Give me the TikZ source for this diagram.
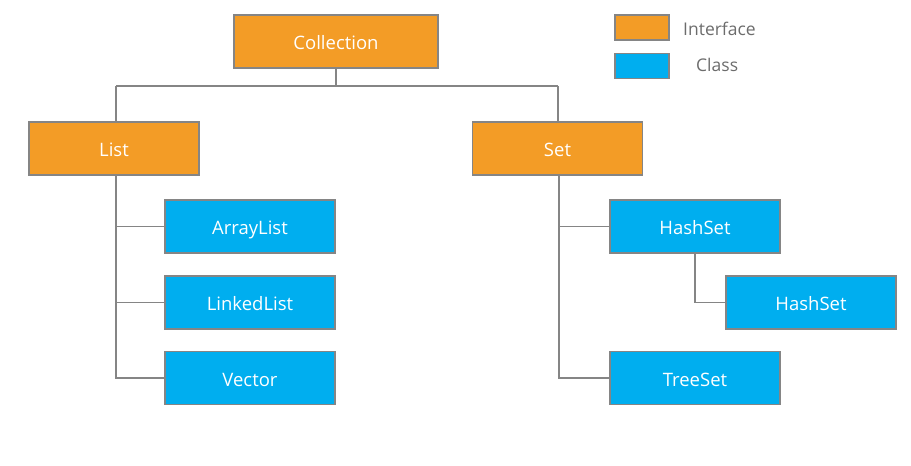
\documentclass[tikz,border=0pt]{standalone}
\usepackage{fontspec}
\setmainfont{Open Sans}
\definecolor{ifc}{HTML}{F39C26}
\definecolor{clc}{HTML}{00AEEF}
\definecolor{edge}{HTML}{858585}
\begin{document}
\begin{tikzpicture}[x=1pt,y=-1pt,
  box/.style={draw=edge,line width=1.2pt,minimum width=170pt,minimum height=53pt,text=white,font=\fontsize{18.5}{20}\selectfont,inner sep=0pt,text height=19pt,text depth=3pt},
  iface/.style={box,fill=ifc},
  cls/.style={box,fill=clc},
  leg/.style={draw=edge,line width=1.2pt,minimum width=54pt,minimum height=25pt,inner sep=0pt},
  legtext/.style={text=gray!85!black,font=\fontsize{17.5}{19}\selectfont,anchor=west,inner sep=0pt},
  conn/.style={draw=edge,line width=1.2pt}]
\useasboundingbox (0,0) rectangle (911,466);
\node[iface,minimum width=204pt] (coll) at (336,41.5) {Collection};
\node[iface] (list) at (114,148.5) {List};
\node[iface] (set) at (557.5,148.5) {Set};
\node[cls] (al) at (250,226.5) {ArrayList};
\node[cls] (ll) at (250,302.5) {LinkedList};
\node[cls] (vec) at (250,378) {Vector};
\node[cls] (hs) at (695,226.5) {HashSet};
\node[cls] (hs2) at (811,302.5) {HashSet};
\node[cls] (ts) at (695,378) {TreeSet};
\node[leg,fill=ifc] (li) at (642,27.5) {};
\node[leg,fill=clc] (lc) at (642,66) {};
\node[legtext] (lit) at (683,29) {Interface};
\node[legtext] (lct) at (696,65) {Class};
\coordinate (jc) at (336,86);
\coordinate (jl) at (116,86);
\coordinate (js) at (558,86);
\draw[conn] (coll.south) -- (jc);
\draw[conn] (jl) -- (js);
\draw[conn] (jl) -- (jl |- list.north);
\draw[conn] (js) -- (js |- set.north);
\coordinate (lt) at (116,175);
\coordinate (st) at (559,175);
\draw[conn] (lt) |- (al.west);
\draw[conn] (lt) |- (ll.west);
\draw[conn] (lt) |- (vec.west);
\draw[conn] (st) |- (hs.west);
\draw[conn] (st) |- (ts.west);
\draw[conn] (hs.south) |- (hs2.west);
\end{tikzpicture}
\end{document}
